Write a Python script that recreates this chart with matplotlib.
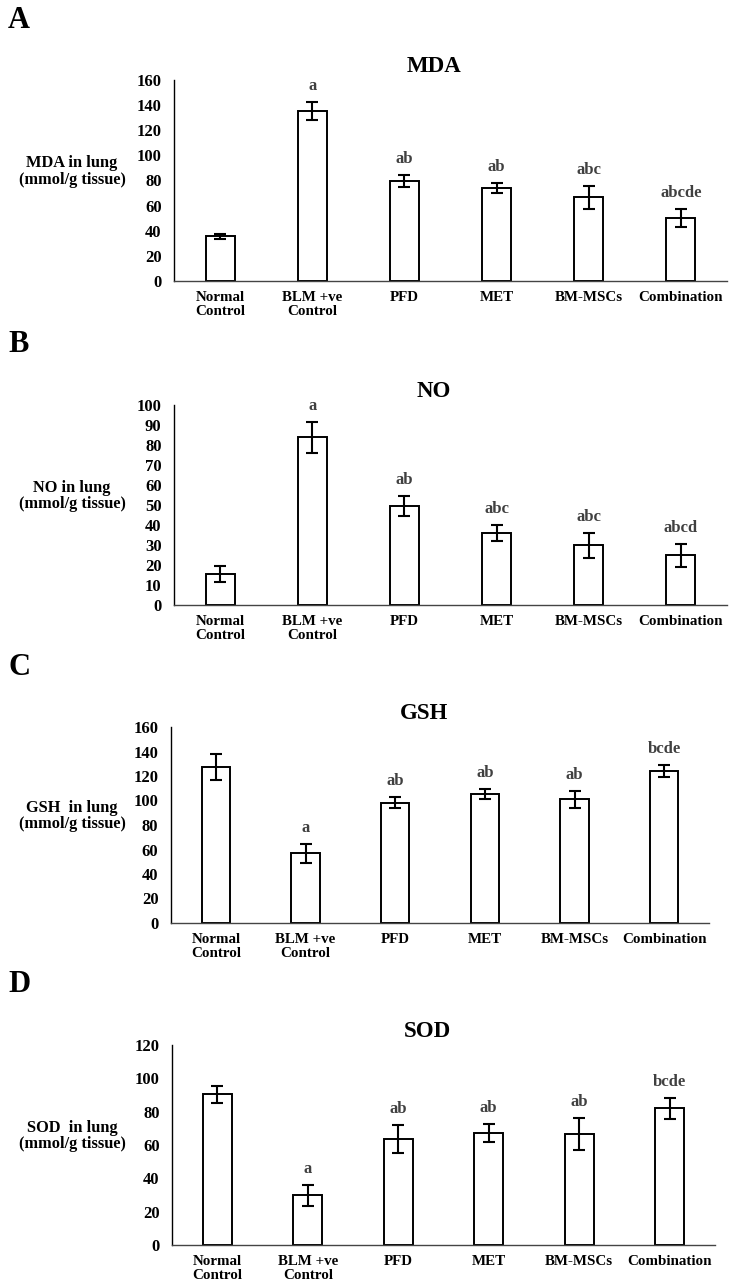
import matplotlib.pyplot as plt
import numpy as np

plt.rcParams['font.family'] = ['Liberation Serif', 'DejaVu Serif']
plt.rcParams['font.weight'] = 'bold'

groups = ['Normal\nControl', 'BLM +ve\nControl', 'PFD', 'MET', 'BM-MSCs', 'Combination']

mda = [35.5, 135.5, 79.5, 74, 66.5, 50]
mda_err = [2, 7, 4.7, 4.2, 9.5, 7]
mda_sig = ['', 'a', 'ab', 'ab', 'abc', 'abcde']

no = [15.5, 83.8, 49.7, 36.2, 29.8, 24.8]
no_err = [3.8, 7.6, 5, 4, 6.3, 5.7]
no_sig = ['', 'a', 'ab', 'abc', 'abc', 'abcd']

gsh = [127.5, 56.8, 98.3, 105.3, 101, 124.2]
gsh_err = [10.6, 7.6, 4.8, 4.2, 7, 4.8]
gsh_sig = ['', 'a', 'ab', 'ab', 'ab', 'bcde']

sod = [90.5, 29.8, 63.8, 67.2, 66.8, 82]
sod_err = [5, 6.2, 8.3, 5.5, 9.5, 6.3]
sod_sig = ['', 'a', 'ab', 'ab', 'ab', 'bcde']

W, H = 733, 1284
fig = plt.figure(figsize=(W / 100, H / 100), dpi=100)

# letter, title, ylabel, data, err, sig, ymax, step, box in pixels (left, top, right, bottom), letter y
panels = [
    ('A', 'MDA', 'MDA in lung\n(mmol/g tissue)', mda, mda_err, mda_sig, 160, 20, (174, 80, 727, 281), 20),
    ('B', 'NO', 'NO in lung\n(mmol/g tissue)', no, no_err, no_sig, 100, 10, (174, 405, 727, 605), 345),
    ('C', 'GSH', 'GSH  in lung\n(mmol/g tissue)', gsh, gsh_err, gsh_sig, 160, 20, (171, 727, 709, 923), 668),
    ('D', 'SOD', 'SOD  in lung\n(mmol/g tissue)', sod, sod_err, sod_sig, 120, 20, (172, 1045, 715, 1245), 985),
]

x = np.arange(len(groups))

for letter, title, ylab, vals, err, sig, ymax, step, box, ly in panels:
    l, t, r, b = box
    ax = fig.add_axes([l / W, 1 - b / H, (r - l) / W, (b - t) / H])
    ax.bar(x, vals, width=0.315, color='white', edgecolor='black', linewidth=1.4, zorder=2)
    ax.errorbar(x, vals, yerr=err, fmt='none', ecolor='black', elinewidth=1.5,
                capsize=4, capthick=1.5, zorder=3)
    for i in range(len(groups)):
        if sig[i]:
            ax.annotate(sig[i], (x[i], vals[i] + err[i]), xytext=(0, 11.5),
                        textcoords='offset points', ha='center', va='center',
                        fontsize=12, color='#404040', fontweight='bold')
    ax.set_xlim(-0.5, len(groups) - 0.5)
    ax.set_ylim(0, ymax)
    ax.set_yticks(np.arange(0, ymax + 1, step))
    ax.set_xticks(x)
    ax.set_xticklabels(groups, fontsize=10.8, linespacing=1.15)
    ax.tick_params(axis='y', length=0, pad=9, labelsize=12)
    ax.tick_params(axis='x', length=0, pad=7)
    for s in ['top', 'right']:
        ax.spines[s].set_visible(False)
    ax.spines['left'].set_linewidth(1.0)
    ax.spines['bottom'].set_linewidth(1.0)
    ax.spines['bottom'].set_color('#444444')
    ax.set_title(title, fontsize=16.5, fontweight='bold', x=0.47, pad=6)
    fig.text(72 / W, 1 - ((t + b) / 2 - 9) / H, ylab, ha='center', va='center',
             fontsize=11.8, linespacing=1.08)
    fig.text(8 / W, 1 - ly / H, letter, ha='left', va='center', fontsize=22, fontweight='bold')

fig.savefig('out.png', dpi=100, facecolor='white')
